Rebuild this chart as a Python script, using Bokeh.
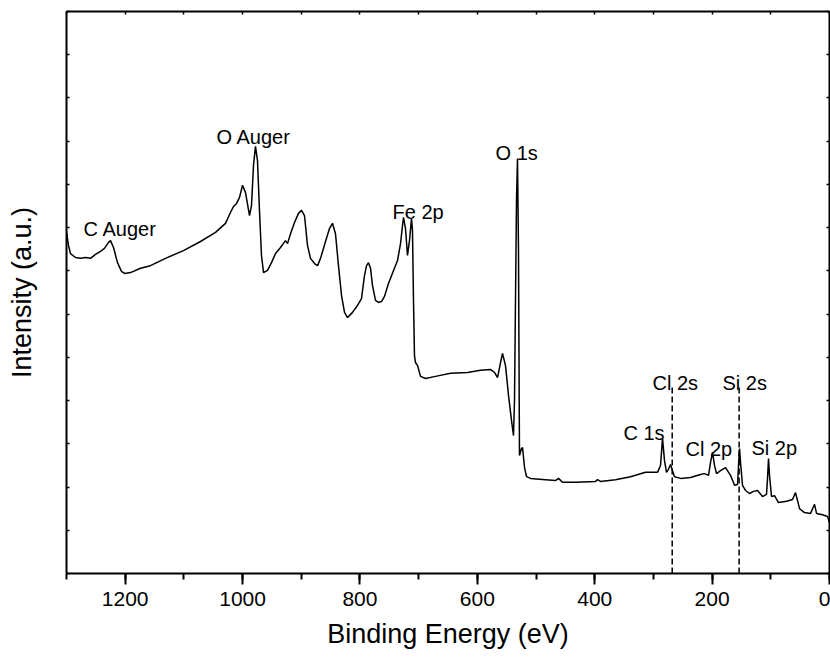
from bokeh.plotting import figure
from bokeh.models import Range1d, LinearAxis, SingleIntervalTicker, ColumnDataSource, CustomJSTickFormatter
from bokeh.core.properties import value
from bokeh.embed import file_html
from bokeh.resources import INLINE

# ---- data ----
binding_energy = [
    1300.0, 1296.6, 1293.2, 1284.7, 1276.1, 1267.6, 1259.1, 1250.6, 1242.1, 1235.3,
    1228.4, 1225.0, 1219.9, 1213.1, 1206.3, 1201.2, 1190.9, 1173.9, 1156.9, 1131.3,
    1100.7, 1071.7, 1046.1, 1029.1, 1020.6, 1015.5, 1010.3, 1005.2, 1000.1, 995.0,
    988.2, 984.8, 981.4, 978.0, 974.6, 971.2, 967.8, 964.3, 957.5, 950.7,
    943.9, 935.4, 926.9, 923.4, 918.3, 911.5, 904.7, 899.6, 894.5, 889.4,
    884.3, 877.4, 872.3, 867.2, 858.7, 851.9, 846.8, 841.7, 836.6, 831.4,
    826.3, 821.2, 812.7, 804.2, 797.4, 792.3, 788.8, 785.4, 782.0, 778.6,
    773.5, 768.4, 763.3, 758.2, 751.4, 742.8, 736.0, 730.9, 727.5, 725.8,
    722.4, 719.0, 715.6, 712.2, 710.5, 708.8, 707.1, 705.4, 701.9, 696.8,
    688.3, 671.3, 645.7, 616.8, 594.6, 577.6, 570.8, 565.6, 560.5, 557.1,
    552.0, 546.9, 541.8, 538.4, 536.7, 535.0, 533.3, 531.6, 529.9, 528.2,
    524.8, 523.0, 519.6, 516.2, 509.4, 483.9, 466.8, 461.7, 454.9, 432.7,
    398.7, 395.3, 390.1, 364.6, 339.0, 313.5, 293.0, 287.9, 284.5, 281.1,
    277.7, 274.3, 270.9, 267.5, 264.1, 253.8, 236.8, 219.8, 212.9, 206.1,
    202.7, 199.3, 195.9, 192.5, 185.7, 177.2, 168.6, 161.8, 156.7, 155.0,
    153.3, 151.6, 148.2, 143.1, 136.3, 129.5, 122.6, 114.1, 107.3, 105.6,
    103.9, 102.2, 98.8, 93.7, 86.9, 73.2, 63.0, 57.9, 54.5, 51.1,
    42.6, 32.3, 27.2, 25.5, 22.1, 11.9, 3.4, 0.0,
]
intensity = [
    79.0, 75.9, 74.0, 73.1, 72.9, 73.1, 72.9, 73.8, 74.5, 75.2,
    76.6, 77.0, 75.4, 71.9, 69.9, 69.4, 69.6, 70.6, 71.2, 72.9,
    74.7, 76.8, 78.9, 81.0, 83.5, 84.9, 85.6, 87.0, 89.8, 88.1,
    82.8, 85.1, 94.4, 98.8, 95.5, 84.0, 73.6, 69.6, 70.1, 71.9,
    74.0, 75.4, 77.0, 76.3, 78.6, 81.2, 83.3, 84.0, 82.8, 75.9,
    72.9, 71.7, 71.2, 72.9, 76.8, 79.8, 81.0, 78.6, 71.2, 64.3,
    60.4, 59.2, 60.4, 62.0, 63.6, 68.9, 71.2, 71.9, 70.6, 66.6,
    63.2, 62.7, 62.9, 64.1, 67.1, 70.1, 72.4, 76.3, 80.5, 82.4,
    79.8, 73.6, 77.0, 82.1, 79.3, 63.2, 50.4, 48.8, 48.1, 45.6,
    45.1, 45.6, 46.3, 46.5, 47.0, 47.2, 46.5, 45.3, 48.8, 50.9,
    48.1, 41.2, 35.4, 31.9, 40.0, 63.2, 86.3, 96.0, 74.7, 27.3,
    28.9, 29.1, 24.5, 22.4, 22.0, 21.7, 21.5, 22.0, 21.1, 21.1,
    21.3, 21.7, 21.3, 21.7, 22.4, 23.4, 23.4, 25.0, 31.2, 26.1,
    23.4, 24.1, 25.2, 23.8, 22.4, 22.0, 22.2, 22.9, 23.1, 22.7,
    25.7, 28.0, 25.0, 23.1, 23.8, 24.5, 22.7, 20.4, 20.6, 25.0,
    28.9, 25.7, 20.4, 19.2, 18.5, 19.0, 19.2, 17.8, 18.3, 22.0,
    26.6, 22.7, 17.8, 18.0, 16.4, 16.7, 17.1, 18.7, 16.9, 15.0,
    14.1, 13.9, 15.5, 16.0, 13.9, 13.6, 13.2, 11.8,
]

peak_labels = ["C Auger", "O Auger", "Fe 2p", "O 1s", "Cl 2s", "Si 2s", "C 1s", "Cl 2p", "Si 2p"]
label_energy = [1271.0, 1044.4, 744.5, 569.0, 301.5, 182.3, 351.0, 245.3, 132.9]
label_intensity = [79.6, 100.9, 83.7, 97.2, 44.0, 44.0, 32.6, 28.7, 29.1]

marker_energy = [268.0, 154.0]     # Cl 2s, Si 2s dashed markers
marker_top = [43.3, 43.3]

x_ticks_major = 200
x_ticks_minor = 100
FONT = "Liberation Sans"

p = figure(width=830, height=659, x_range=Range1d(1300, 0), y_range=Range1d(0, 130),
           output_backend="svg", toolbar_location=None,
           x_axis_location=None, y_axis_location=None,
           min_border_left=66, min_border_right=1, min_border_top=11, min_border_bottom=86)
p.outline_line_color = None
p.background_fill_color = "white"
p.border_fill_color = "white"
p.xgrid.grid_line_color = None
p.ygrid.grid_line_color = None

empty = CustomJSTickFormatter(code="return ''")

xb = LinearAxis(ticker=SingleIntervalTicker(interval=x_ticks_major, num_minor_ticks=2),
                axis_label="Binding Energy (eV)")
xb.axis_line_width = 2
xb.major_tick_line_width = 2
xb.minor_tick_line_width = 2
xb.major_tick_out = 11
xb.major_tick_in = 0
xb.minor_tick_out = 6
xb.minor_tick_in = 0
xb.major_label_standoff = 7
xb.major_label_text_font = FONT
xb.major_label_text_font_size = "21px"
xb.major_label_text_color = "black"
xb.axis_label_text_font = FONT
xb.axis_label_text_font_size = "27px"
xb.axis_label_text_font_style = "normal"
xb.axis_label_text_color = "black"
xb.axis_label_standoff = 10
p.add_layout(xb, "below")

xt = LinearAxis(ticker=SingleIntervalTicker(interval=x_ticks_minor, num_minor_ticks=0), formatter=empty)
xt.axis_line_width = 2
xt.major_tick_line_width = 1.5
xt.major_tick_in = 3
xt.major_tick_out = 0
xt.minor_tick_line_color = None
xt.major_label_standoff = 0
p.add_layout(xt, "above")

yl = LinearAxis(ticker=SingleIntervalTicker(interval=10, num_minor_ticks=0), formatter=empty,
                axis_label="Intensity (a.u.)")
yl.axis_line_width = 2
yl.major_tick_line_width = 1.5
yl.major_tick_in = 3
yl.major_tick_out = 0
yl.minor_tick_line_color = None
yl.major_label_standoff = 0
yl.axis_label_text_font = FONT
yl.axis_label_text_font_size = "27px"
yl.axis_label_text_font_style = "normal"
yl.axis_label_text_color = "black"
yl.axis_label_standoff = 30
p.add_layout(yl, "left")

yr = LinearAxis(ticker=SingleIntervalTicker(interval=10, num_minor_ticks=0), formatter=empty)
yr.axis_line_width = 2
yr.major_tick_line_width = 1.5
yr.major_tick_in = 3
yr.major_tick_out = 0
yr.minor_tick_line_color = None
yr.major_label_standoff = 0
p.add_layout(yr, "right")

p.line(binding_energy, intensity, line_color="black", line_width=1.5)

p.segment(x0=marker_energy, y0=[0, 0], x1=marker_energy, y1=marker_top,
          line_color="black", line_width=1.5, line_dash="6 3")

src = ColumnDataSource(dict(x=label_energy, y=label_intensity, t=peak_labels))
p.text(x="x", y="y", text="t", source=src, text_font=value(FONT), text_font_size="20px",
       text_align="left", text_baseline="alphabetic", text_color="black")

open("out.html", "w").write(file_html(p, INLINE))
